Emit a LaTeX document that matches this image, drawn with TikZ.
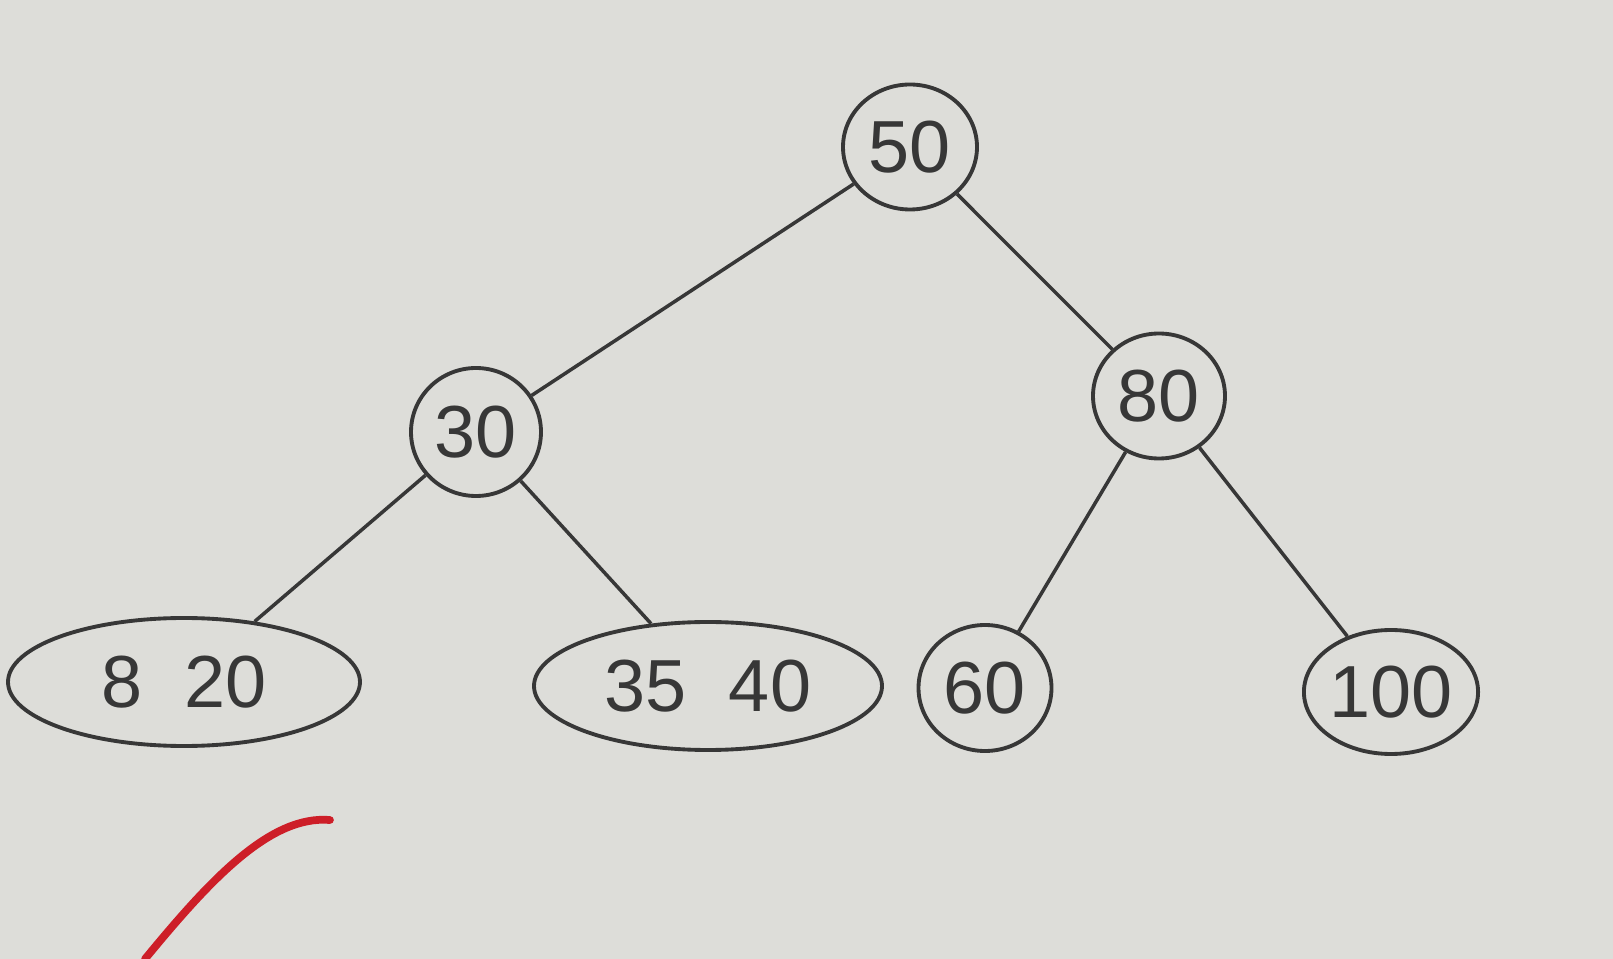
\documentclass[tikz,border=0pt]{standalone}
\usepackage{fontspec}
\setmainfont{Liberation Sans}
\usetikzlibrary{shapes.geometric}
\definecolor{paper}{RGB}{221,221,217}
\definecolor{ink}{RGB}{55,55,55}
\definecolor{pen}{RGB}{205,30,40}
\tikzset{
  keynode/.style={ellipse, draw=ink, line width=1.1pt, inner sep=0pt, text=ink,
    font=\fontsize{21}{25}\selectfont},
  edge/.style={draw=ink, line width=1pt}
}
\newcommand{\gp}{\hspace{0.42cm}}
\begin{document}
\begin{tikzpicture}
\fill[paper] (0,0) rectangle (16.13,-9.59);
\useasboundingbox (0,0) rectangle (16.13,-9.59);
\node[keynode, minimum width=1.34cm, minimum height=1.25cm] (n50) at (9.10,-1.47) {50};
\node[keynode, minimum width=1.30cm, minimum height=1.28cm] (n30) at (4.76,-4.32) {30};
\node[keynode, minimum width=1.32cm, minimum height=1.25cm] (n80) at (11.59,-3.96) {80};
\node[keynode, minimum width=3.52cm, minimum height=1.28cm] (n820) at (1.84,-6.82) {8\gp20};
\node[keynode, minimum width=3.48cm, minimum height=1.28cm] (n3540) at (7.08,-6.86) {35\gp40};
\node[keynode, minimum width=1.33cm, minimum height=1.26cm] (n60) at (9.85,-6.88) {60};
\node[keynode, minimum width=1.74cm, minimum height=1.24cm] (n100) at (13.91,-6.92) {100};
\draw[edge] (n50) -- (n30);
\draw[edge] (n50) -- (n80);
\draw[edge] (n30) -- (n820);
\draw[edge] (n30) -- (n3540);
\draw[edge] (n80) -- (n60);
\draw[edge] (n80) -- (n100);
\draw[pen, line width=2.2pt, line cap=round] (3.30,-8.20) .. controls (2.70,-8.15) and (2.10,-8.80) .. (1.45,-9.59);
\end{tikzpicture}
\end{document}
